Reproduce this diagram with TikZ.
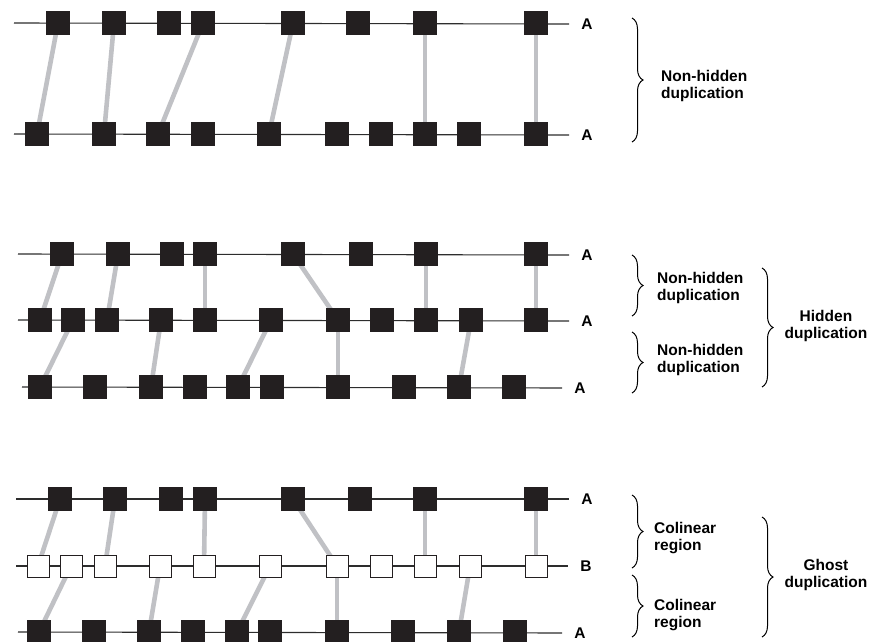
\documentclass[tikz,border=0pt]{standalone}
\usepackage{fontspec}
\setmainfont{Liberation Sans}
\usetikzlibrary{decorations.pathreplacing,backgrounds}

\definecolor{geneblack}{RGB}{35,31,32}
\definecolor{linkgray}{RGB}{192,193,197}
\definecolor{chromgray}{RGB}{45,45,45}

\begin{document}
\begin{tikzpicture}[
    x=1pt, y=-1pt,
    gene/.style={
        rectangle,
        draw=geneblack,
        fill=geneblack,
        minimum size=23pt,
        inner sep=0pt
    },
    ghost/.style={
        gene,
        fill=white,
        line width=1pt,
        minimum size=22pt
    },
    chrom/.style={
        draw=chromgray,
        line width=1.1pt,
        shorten >=10pt
    },
    link/.style={
        draw=linkgray,
        line width=4.6pt
    },
    tag/.style={
        font=\bfseries\fontsize{15.5}{16.5}\selectfont,
        inner sep=2pt
    },
    note/.style={
        tag,
        align=left,
        anchor=west
    },
    wide/.style={
        tag,
        align=center
    },
    curly/.style={
        decorate,
        decoration={brace, amplitude=11pt},
        line width=1pt
    }
]
\useasboundingbox (0,0) rectangle (873,641);

% Non-hidden duplication
\foreach \x [count=\i] in {58,114,169,203,293,358,425,536}
    \node[gene] (p1-\i) at (\x,23) {};
\foreach \x [count=\i] in {37,104,158,203,269,337,381,425,469,536}
    \node[gene] (p2-\i) at (\x,134) {};
\coordinate (p1s) at (14,23);
\coordinate (p2s) at (14,134);
\node[tag] (p1t) at (587,24) {A};
\node[tag] (p2t) at (587,135) {A};

% Hidden duplication
\foreach \x [count=\i] in {62,118,172,205,293,361,426,536}
    \node[gene] (h1-\i) at (\x,254) {};
\foreach \x [count=\i] in {40,73,107,161,205,271,338,382,426,471,536}
    \node[gene] (h2-\i) at (\x,320) {};
\foreach \x [count=\i] in {40,95,151,195,238,272,338,404,459,514}
    \node[gene] (h3-\i) at (\x,387) {};
\coordinate (h1s) at (18,254);
\coordinate (h2s) at (18,320);
\coordinate (h3s) at (22,387);
\node[tag] (h1t) at (587,255) {A};
\node[tag] (h2t) at (587,321) {A};
\node[tag] (h3t) at (580,388) {A};

% Ghost duplication
\foreach \x [count=\i] in {60,115,171,205,293,360,425,536}
    \node[gene] (g1-\i) at (\x,499) {};
\foreach \x [count=\i] in {38,71,105,160,204,270,337,381,425,470,536}
    \node[ghost] (g2-\i) at (\x,566) {};
\foreach \x [count=\i] in {39,94,149,193,237,270,337,403,459,515}
    \node[gene] (g3-\i) at (\x,632) {};
\coordinate (g1s) at (16,499);
\coordinate (g2s) at (16,566);
\coordinate (g3s) at (18,632);
\node[tag] (g1t) at (587,499) {A};
\node[tag] (g2t) at (586,566) {B};
\node[tag] (g3t) at (580,633) {A};

% chromosomes and gene links behind the boxes
\begin{scope}[on background layer]
    \foreach \r in {p1,p2,h1,h2,h3,g1,g2,g3}
        \draw[chrom] (\r s) -- (\r t.west);
    \foreach \a/\b in {1/1,2/2,4/3,5/5,7/8,8/10}
        \draw[link] (p1-\a.center) -- (p2-\b.center);
    \foreach \a/\b in {1/1,2/3,4/5,5/7,7/9,8/11}
        \draw[link] (h1-\a.center) -- (h2-\b.center);
    \foreach \a/\b in {2/1,4/3,6/5,7/7,10/9}
        \draw[link] (h2-\a.center) -- (h3-\b.center);
    \foreach \a/\b in {1/1,2/3,4/5,5/7,7/9,8/11}
        \draw[link] (g1-\a.center) -- (g2-\b.center);
    \foreach \a/\b in {2/1,4/3,6/5,7/7,10/9}
        \draw[link] (g2-\a.center) -- (g3-\b.center);
\end{scope}

% Braces and their labels
\draw[curly] (632,18) -- (632,142);
\node[note] (nh0) at (659,86) {Non-hidden\\duplication};

\draw[curly] (632,255) -- (632,316);
\node[note] (nh1) at (655,288) {Non-hidden\\duplication};
\draw[curly] (632,332) -- (632,393);
\node[note] (nh2) at (655,360) {Non-hidden\\duplication};
\draw[curly] (762,268) -- (762,387);
\node[wide] (hid) at (826,326) {Hidden\\duplication};

\draw[curly] (632,495) -- (632,568);
\node[note] (col1) at (652,538) {Colinear\\region};
\draw[curly] (632,575) -- (632,637);
\node[note] (col2) at (652,615) {Colinear\\region};
\draw[curly] (762,517) -- (762,637);
\node[wide] (gho) at (826,575) {Ghost\\duplication};

\end{tikzpicture}
\end{document}
